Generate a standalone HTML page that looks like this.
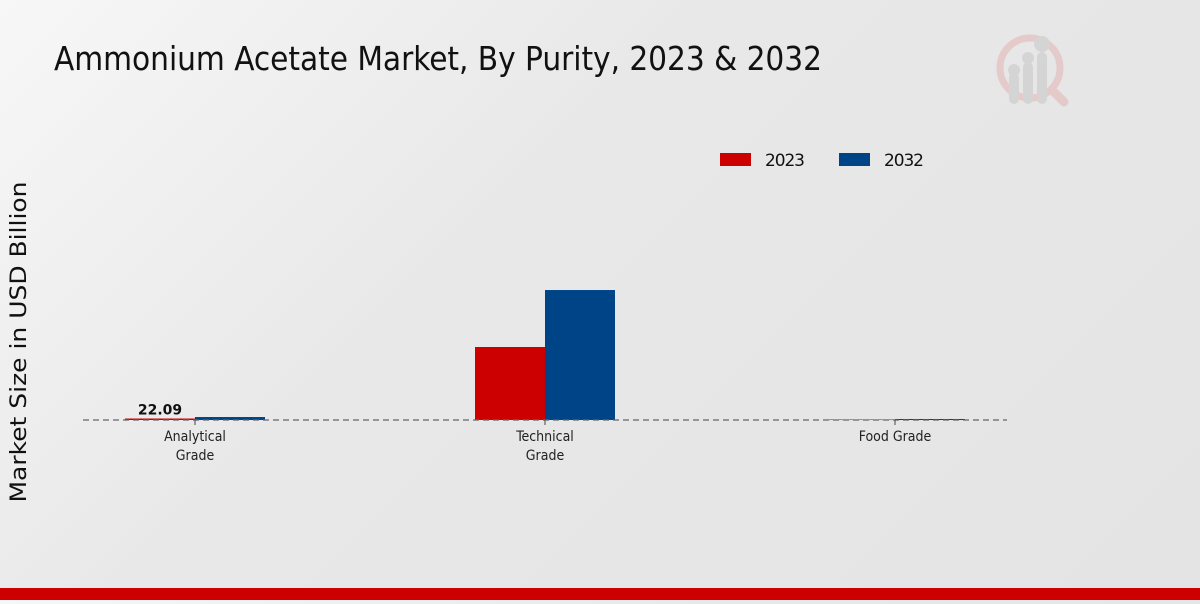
<!DOCTYPE html>
<html><head><meta charset="utf-8"><style>
body{margin:0;width:1200px;height:600px;overflow:hidden;background:linear-gradient(135deg,#f7f7f7 0%,#e8e8e8 40%,#e4e4e4 100%);font-family:"DejaVu Sans","Liberation Sans",sans-serif}
</style></head><body>
<svg width="1200" height="600" id="c">
<text x="54" y="70" font-size="33" fill="#111" style="font-family:'DejaVu Sans Condensed','DejaVu Sans',sans-serif" textLength="768">Ammonium Acetate Market, By Purity, 2023 &amp; 2032</text>
<g opacity="0.4">
<circle cx="1030" cy="68" r="30" fill="none" stroke="#e3a0a0" stroke-width="7"/>
<line x1="1052" y1="90" x2="1064" y2="102" stroke="#e3a0a0" stroke-width="9" stroke-linecap="round"/>
<rect x="1009" y="72" width="10" height="32" rx="5" fill="#bbb"/><rect x="1023" y="62" width="10" height="42" rx="5" fill="#bbb"/><rect x="1037" y="52" width="10" height="52" rx="5" fill="#bbb"/>
<circle cx="1014" cy="70" r="6" fill="#bbb"/><circle cx="1028" cy="58" r="6" fill="#bbb"/><circle cx="1042" cy="44" r="8" fill="#bbb"/>
</g>
<g>
<rect x="720" y="153" width="31" height="13" fill="#cc0000"/>
<text x="765" y="166" font-size="17" fill="#111" textLength="40">2023</text>
<rect x="839" y="153" width="31" height="13" fill="#004488"/>
<text x="884" y="166" font-size="17" fill="#111" textLength="40">2032</text>
</g>
<text transform="translate(26,342) rotate(-90)" text-anchor="middle" font-size="22" fill="#111" textLength="321" lengthAdjust="spacingAndGlyphs">Market Size in USD Billion</text>
<g id="bars"></g>
<line x1="83" y1="420" x2="1007" y2="420" stroke="#666" stroke-width="1.2" stroke-dasharray="6,4"/>
<g id="labels"></g>
<rect x="0" y="588" width="1200" height="12" fill="#cc0000"/>
</svg>
<script>
const categories=[["Analytical","Grade"],["Technical","Grade"],["Food Grade"]];
const values2023=[22.09,1080,7];
const values2032=[44,1923,15];
const valueLabels=["22.09","",""];
const ns="http://www.w3.org/2000/svg";
const base=420, scale=73/1080, x0=195, step=350, bw=70;
const y=v=>base-v*scale;
const bars=document.getElementById('bars'), labels=document.getElementById('labels');
function mk(t,a){const e=document.createElementNS(ns,t);for(const k in a)e.setAttribute(k,a[k]);return e;}
categories.forEach((cat,i)=>{
  const cx=x0+i*step;
  const r1=mk('rect',{x:cx-bw,y:y(values2023[i]),width:bw,height:Math.max(0.5,base-y(values2023[i])),fill:'#cc0000'});
  
  
  bars.appendChild(r1);
  const r2=mk('rect',{x:cx,y:y(values2032[i]),width:bw,height:Math.max(0.5,base-y(values2032[i])),fill:'#004488'});
  
  
  bars.appendChild(r2);
  const tk=mk('line',{x1:cx,y1:420,x2:cx,y2:425,stroke:'#444'});
  
  
  labels.appendChild(tk);
  cat.forEach((ln,j)=>{
    const t=mk('text',{x:cx,y:441+j*19,'text-anchor':'middle','font-size':14,fill:'#222',style:"font-family:'DejaVu Sans Condensed','DejaVu Sans',sans-serif"});
    t.textContent=ln;
    
    
    labels.appendChild(t);
  });
  if(valueLabels[i]){
    const v=mk('text',{x:cx-bw/2,y:y(values2023[i])-4,'text-anchor':'middle','font-size':14,'font-weight':'bold',fill:'#111'});
    v.textContent=valueLabels[i];
    
    
    labels.appendChild(v);
  }
});
</script>
</body></html>
